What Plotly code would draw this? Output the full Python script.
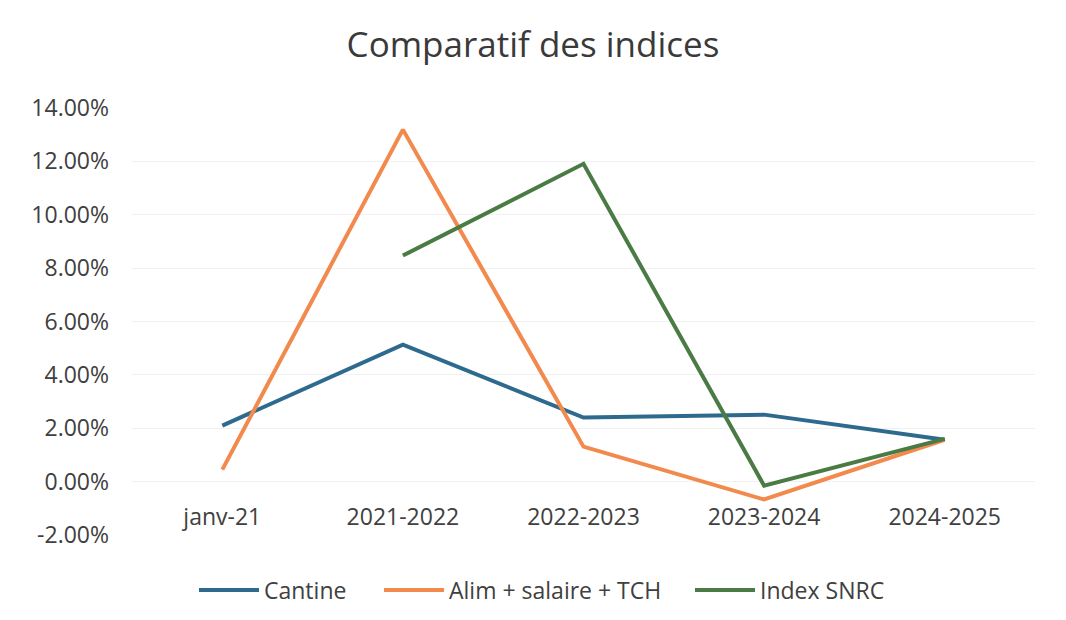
import plotly.graph_objects as go

categories = ["janv-21", "2021-2022", "2022-2023", "2023-2024", "2024-2025"]
cantine = [0.0210, 0.0513, 0.0240, 0.0251, 0.0157]
alim = [0.0045, 0.1319, 0.0131, -0.0067, 0.0157]
snrc = [None, 0.0847, 0.1191, -0.0015, 0.0160]
y_ticks = [-0.02, 0, 0.02, 0.04, 0.06, 0.08, 0.10, 0.12, 0.14]
y_labels = [f"{v * 100:.2f}%" for v in y_ticks]

FONT = "Open Sans"
TXT = "#404040"
W, H = 1050, 604

fig = go.Figure()
fig.add_trace(go.Scatter(x=categories, y=cantine, name="Cantine", mode="lines",
                         line=dict(color="#2e6a8e", width=4), legend="legend"))
fig.add_trace(go.Scatter(x=categories, y=alim, name="Alim + salaire + TCH", mode="lines",
                         line=dict(color="#f28a4e", width=4), legend="legend2"))
fig.add_trace(go.Scatter(x=categories, y=snrc, name="Index SNRC", mode="lines",
                         line=dict(color="#4b7b45", width=4), legend="legend3"))

leg_common = dict(orientation="h", xref="container", yref="container",
                  xanchor="left", yanchor="middle", y=1 - 582 / H,
                  font=dict(size=23, color=TXT), itemwidth=60,
                  bgcolor="rgba(0,0,0,0)")

fig.update_layout(
    width=W, height=H,
    margin=dict(l=124, r=23, t=100, b=77, autoexpand=False),
    paper_bgcolor="white", plot_bgcolor="white",
    font=dict(family=FONT, color=TXT, size=22),
    title=dict(text="Comparatif des indices", x=0.5, xanchor="center",
               y=1 - 37 / H, yanchor="middle",
               font=dict(size=35, color="#3a3a3a", family=FONT)),
    showlegend=True,
    legend=dict(x=186 / W, **leg_common),
    legend2=dict(x=371 / W, **leg_common),
    legend3=dict(x=682 / W, **leg_common),
    xaxis=dict(type="category", range=[-0.5, 4.5], showgrid=False, showline=False,
               zeroline=False, ticks="", anchor="free", position=0.125,
               tickfont=dict(size=23, color=TXT), ticklabelstandoff=19),
    yaxis=dict(range=[-0.02, 0.14], tickvals=y_ticks, ticktext=y_labels,
               showgrid=True, gridcolor="#f1f1f1", gridwidth=1, zeroline=False,
               showline=False, ticks="", ticklabelstandoff=22,
               tickfont=dict(size=23, color=TXT)),
)

fig.write_html("out.html")
